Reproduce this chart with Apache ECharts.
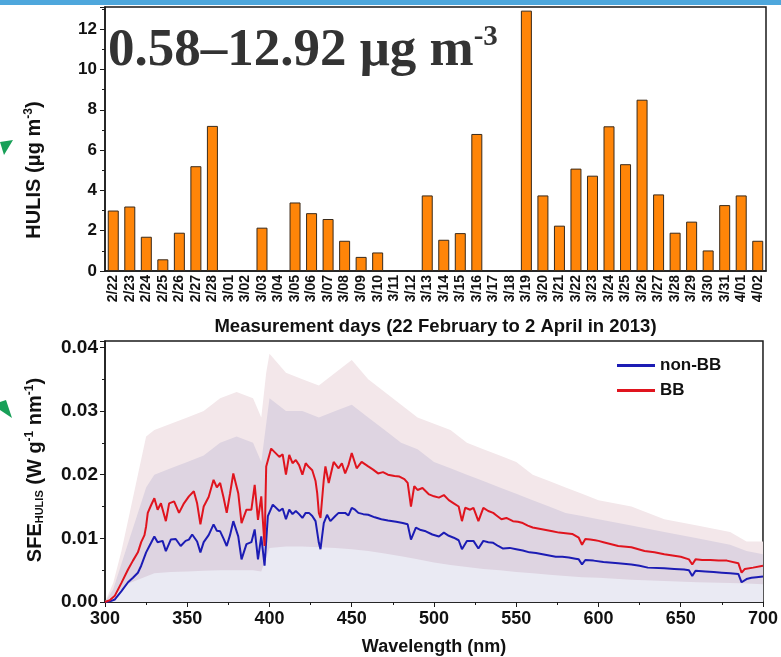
<!DOCTYPE html>
<html>
<head>
<meta charset="utf-8">
<script src="https://cdn.jsdelivr.net/npm/echarts@6/dist/echarts.min.js"></script>
<style>
  html, body { margin: 0; padding: 0; background: #fff; }
  #chart { width: 781px; height: 657px; }
</style>
</head>
<body>
<div id="chart"></div>
<script>
// top panel: daily HULIS (µg m-3), null = no sample
const days = ['2/22','2/23','2/24','2/25','2/26','2/27','2/28','3/01','3/02','3/03','3/04','3/05','3/06','3/07','3/08','3/09','3/10','3/11','3/12','3/13',
  '3/14','3/15','3/16','3/17','3/18','3/19','3/20','3/21','3/22','3/23','3/24','3/25','3/26','3/27','3/28','3/29','3/30','3/31','4/01','4/02'];
const hulis = [3.0, 3.2, 1.7, 0.58, 1.9, 5.2, 7.2, null, null, 2.15, null, 3.4, 2.87, 2.58, 1.5, 0.7, 0.92, null, null, 3.75,
  1.55, 1.88, 6.8, null, null, 12.92, 3.75, 2.25, 5.08, 4.73, 7.18, 5.3, 8.5, 3.8, 1.9, 2.45, 1.02, 3.27, 3.75, 1.5];

// bottom panel: SFE spectra
const bbWave = [300,303,306,310,314,317,320,322,324,325,326,328,330,332,334,335,337,339,342,345,348,351,354,356,358,360,363,366,368,370,372,374,376,378,381,383,386,389,391,393,395,397,398,
  401,402,406,408,410,412,414,416,418,420,422,424,426,428,429,430,431,433,434,436,439,442,444,446,448,450,453,456,460,463,466,469,472,476,479,482,484,486,488,490,493,497,
  500,503,506,509,512,515,517,519,522,524,527,530,533,536,538,541,544,548,551,554,557,560,564,568,572,576,580,584,588,590,592,595,598,
  600,603,612,620,628,634,640,645,650,655,657,659,663,668,673,678,685,687,689,694,700];
const bbSfe = [0,0.0003,0.001,0.003,0.0051,0.0065,0.0078,0.0094,0.0105,0.0119,0.014,0.0152,0.0163,0.0145,0.0155,0.0153,0.0127,0.0155,0.0158,0.014,0.0155,0.0166,0.0174,0.0155,0.0122,0.015,0.0165,0.0192,0.018,0.0187,0.0165,0.014,0.017,0.0202,0.0171,0.0124,0.0145,0.0145,0.0184,0.0129,0.0166,0.0088,0.0213,
  0.0241,0.0241,0.0228,0.0232,0.02,0.0231,0.0218,0.0223,0.0215,0.02,0.0218,0.0212,0.0207,0.019,0.0171,0.014,0.0132,0.0192,0.0213,0.0187,0.022,0.021,0.0218,0.0202,0.0215,0.0234,0.021,0.022,0.0213,0.0208,0.0202,0.0204,0.02,0.0198,0.0197,0.0193,0.0187,0.015,0.0182,0.0176,0.0179,0.0169,
  0.0166,0.0164,0.0168,0.016,0.0155,0.015,0.0127,0.0148,0.0145,0.0148,0.0127,0.0148,0.0143,0.014,0.0136,0.013,0.0132,0.0127,0.0126,0.0124,0.012,0.0117,0.0115,0.0113,0.0111,0.0109,0.0108,0.0107,0.0101,0.009,0.0099,0.0098,0.0097,
  0.0096,0.0094,0.0088,0.0086,0.008,0.0078,0.0075,0.0073,0.0071,0.0067,0.0059,0.0067,0.0066,0.0066,0.0065,0.0065,0.0061,0.0046,0.0052,0.0054,0.0057];

const nonWave = [300,303,306,310,314,317,320,322,325,327,330,332,335,337,340,343,346,349,351,353,356,358,360,363,366,368,370,372,374,376,378,381,383,386,389,391,393,395,397,399,
  402,406,408,410,412,414,416,418,420,422,424,426,428,430,431,433,435,437,440,442,446,448,450,452,454,457,460,464,468,472,477,481,484,486,489,492,495,499,
  503,506,509,512,515,517,520,524,527,530,533,536,539,542,546,550,554,558,562,566,570,574,578,582,586,588,590,592,597,
  603,612,620,625,630,640,646,652,655,657,659,665,670,675,680,685,687,690,693,696,700];
const nonSfe = [0,0.0001,0.0004,0.0017,0.0031,0.0038,0.0046,0.0057,0.0078,0.0088,0.0103,0.0094,0.0096,0.008,0.0098,0.0099,0.0088,0.0096,0.0098,0.0106,0.0095,0.0078,0.0094,0.0105,0.0122,0.0112,0.0111,0.01,0.0088,0.0105,0.0127,0.0103,0.0067,0.0091,0.0094,0.0114,0.0067,0.0103,0.0057,0.0135,
  0.0153,0.0143,0.0147,0.013,0.0145,0.0138,0.0143,0.0138,0.0132,0.014,0.014,0.0135,0.0127,0.0093,0.0083,0.0124,0.0137,0.0127,0.0135,0.014,0.014,0.0136,0.0148,0.0145,0.014,0.0138,0.0137,0.0133,0.013,0.0128,0.0126,0.0124,0.0122,0.0098,0.0117,0.0113,0.0111,0.0106,
  0.0103,0.0109,0.0104,0.0101,0.0097,0.0083,0.0096,0.0096,0.0084,0.0096,0.0094,0.0093,0.0088,0.0084,0.0085,0.0083,0.0081,0.0078,0.0077,0.0075,0.0073,0.0071,0.0071,0.007,0.0068,0.0067,0.0059,0.0066,0.0065,
  0.0063,0.0061,0.0059,0.0057,0.0054,0.0053,0.0052,0.0051,0.005,0.0041,0.0049,0.0048,0.0047,0.0046,0.0045,0.0044,0.0031,0.0036,0.0038,0.0039,0.004];

// spread envelopes behind the lines
const envWave  = [300,305,310,315,320,325,330,340,350,360,370,380,390,395,398,400,410,420,430,440,450,460,470,480,490,500,510,520,530,540,550,560,570,580,590,600,620,640,660,680,690,700];
const bbUpper  = [0,0.003,0.008,0.014,0.02,0.026,0.027,0.028,0.029,0.03,0.032,0.033,0.032,0.029,0.036,0.039,0.036,0.035,0.034,0.036,0.038,0.035,0.033,0.031,0.029,0.028,0.027,0.025,0.024,0.023,0.022,0.02,0.019,0.018,0.017,0.016,0.015,0.013,0.012,0.011,0.0095,0.0095];
const nonUpper = [0,0.002,0.006,0.01,0.014,0.018,0.02,0.021,0.022,0.023,0.025,0.026,0.025,0.022,0.028,0.032,0.03,0.03,0.029,0.03,0.031,0.029,0.027,0.025,0.024,0.022,0.021,0.02,0.019,0.018,0.017,0.016,0.015,0.014,0.0135,0.013,0.012,0.011,0.01,0.009,0.008,0.0075];
const lowBand  = [0,0.001,0.002,0.003,0.0035,0.004,0.0045,0.0047,0.0048,0.0049,0.005,0.005,0.005,0.0048,0.007,0.0085,0.0087,0.0087,0.0086,0.0085,0.0083,0.008,0.0076,0.0072,0.0067,0.0062,0.0058,0.0055,0.0052,0.005,0.0047,0.0045,0.0043,0.0041,0.0039,0.0038,0.0035,0.0033,0.0031,0.003,0.0029,0.0028];

const pairs = (xs, ys) => xs.map((x, i) => [x, ys[i]]);
const FONT = 'Liberation Sans, Arial, sans-serif';
const axisCol = '#1a1a1a';

var myChart = echarts.init(document.getElementById('chart'));

const option = {
  backgroundColor: '#fff',
  animation: false,
  graphic: [
    { type: 'rect', shape: { x: 0, y: 0, width: 781, height: 5 }, style: { fill: '#4ea7dc' } },
    // little green arrow heads on the left edge
    { type: 'polygon', shape: { points: [[0, 142], [13, 140], [4, 155]] }, style: { fill: '#18a058' } },
    { type: 'polygon', shape: { points: [[0, 402], [6, 400], [12, 418], [0, 410]] }, style: { fill: '#18a058' } },
    {
      type: 'text', left: 108, top: 23,
      style: {
        text: '{b|0.58–12.92 μg m}{s|-3}',
        rich: {
          b: { font: 'bold 53px "Liberation Serif", serif', fill: '#333', lineHeight: 56 },
          s: { font: 'bold 29px "Liberation Serif", serif', fill: '#333', verticalAlign: 'top', lineHeight: 56, padding: [0, 0, 24, 0] }
        }
      }
    },
    {
      type: 'text', x: 34, y: 170, rotation: Math.PI / 2,
      style: {
        text: '{a|HULIS (μg m}{s|-3}{a|)}', align: 'center', verticalAlign: 'middle',
        rich: {
          a: { font: 'bold 20px ' + FONT, fill: '#111', lineHeight: 22 },
          s: { font: 'bold 12px ' + FONT, fill: '#111', lineHeight: 22, padding: [0, 0, 10, 0] }
        }
      }
    },
    {
      type: 'text', x: 35, y: 470, rotation: Math.PI / 2,
      style: {
        text: '{a|SFE}{b|HULIS}{a| (W g}{s|-1}{a| nm}{s|-1}{a|)}', align: 'center', verticalAlign: 'middle',
        rich: {
          a: { font: 'bold 20px ' + FONT, fill: '#111', lineHeight: 22 },
          b: { font: 'bold 11px ' + FONT, fill: '#111', lineHeight: 22, padding: [9, 0, 0, 0] },
          s: { font: 'bold 12px ' + FONT, fill: '#111', lineHeight: 22, padding: [0, 0, 10, 0] }
        }
      }
    }
  ],
  grid: [
    { left: 105, right: 15, top: 7, height: 264, show: true, borderColor: axisCol, borderWidth: 1.5, backgroundColor: 'transparent' },
    { left: 105, right: 15, top: 341, height: 262, show: true, borderColor: axisCol, borderWidth: 1.5, backgroundColor: 'transparent' }
  ],
  legend: {
    data: ['non-BB', 'BB'],
    orient: 'vertical',
    left: 612, top: 352,
    icon: 'rect',
    itemWidth: 38, itemHeight: 3, itemGap: 8,
    textStyle: { fontFamily: FONT, fontWeight: 'bold', fontSize: 17, color: '#111' }
  },
  xAxis: [
    {
      type: 'category', gridIndex: 0, data: days,
      name: 'Measurement days (22 February to 2 April in 2013)',
      nameLocation: 'middle', nameGap: 46,
      nameTextStyle: { fontFamily: FONT, fontWeight: 'bold', fontSize: 18.5, color: '#111' },
      axisLine: { lineStyle: { color: axisCol, width: 1.5 } },
      axisTick: { length: 4, lineStyle: { color: axisCol } },
      axisLabel: { interval: 0, rotate: 90, margin: 4, fontFamily: FONT, fontWeight: 'bold', fontSize: 14, color: '#111' }
    },
    {
      type: 'value', gridIndex: 1, min: 300, max: 700, interval: 50,
      name: 'Wavelength (nm)', nameLocation: 'middle', nameGap: 36,
      nameTextStyle: { fontFamily: FONT, fontWeight: 'bold', fontSize: 18, color: '#111' },
      axisLine: { lineStyle: { color: axisCol, width: 1.5 } },
      axisTick: { length: 5, lineStyle: { color: axisCol } },
      minorTick: { show: true, splitNumber: 2, length: 3, lineStyle: { color: axisCol } },
      splitLine: { show: false },
      axisLabel: { margin: 8, fontFamily: FONT, fontWeight: 'bold', fontSize: 18, color: '#111' }
    }
  ],
  yAxis: [
    {
      type: 'value', gridIndex: 0, min: 0, max: 13.1, interval: 2,
      axisLine: { show: true, lineStyle: { color: axisCol, width: 1.5 } },
      axisTick: { show: true, length: 5, lineStyle: { color: axisCol } },
      minorTick: { show: true, splitNumber: 2, length: 3, lineStyle: { color: axisCol } },
      splitLine: { show: false },
      axisLabel: { showMaxLabel: false, margin: 8, fontFamily: FONT, fontWeight: 'bold', fontSize: 17, color: '#111' }
    },
    {
      type: 'value', gridIndex: 1, min: 0, max: 0.041, interval: 0.01,
      axisLine: { show: true, lineStyle: { color: axisCol, width: 1.5 } },
      axisTick: { show: true, length: 5, lineStyle: { color: axisCol } },
      minorTick: { show: true, splitNumber: 2, length: 3, lineStyle: { color: axisCol } },
      splitLine: { show: false },
      axisLabel: {
        showMaxLabel: false, margin: 7, fontFamily: FONT, fontWeight: 'bold', fontSize: 19, color: '#111',
        formatter: v => v.toFixed(2)
      }
    }
  ],
  series: [
    {
      type: 'bar', name: 'HULIS', xAxisIndex: 0, yAxisIndex: 0,
      data: hulis, barWidth: 11,
      itemStyle: { color: '#ff8508', borderColor: '#3a2a1a', borderWidth: 1 }
    },
    {
      type: 'line', name: 'BB spread', xAxisIndex: 1, yAxisIndex: 1,
      data: pairs(envWave, bbUpper), showSymbol: false, silent: true,
      lineStyle: { width: 0 }, areaStyle: { color: '#f3e7ea', opacity: 1 }
    },
    {
      type: 'line', name: 'non-BB spread', xAxisIndex: 1, yAxisIndex: 1,
      data: pairs(envWave, nonUpper), showSymbol: false, silent: true,
      lineStyle: { width: 0 }, areaStyle: { color: '#ded4e1', opacity: 1 }
    },
    {
      type: 'line', name: 'low', xAxisIndex: 1, yAxisIndex: 1,
      data: pairs(envWave, lowBand), showSymbol: false, silent: true,
      lineStyle: { width: 0 }, areaStyle: { color: '#eaeaf3', opacity: 1 }
    },
    {
      type: 'line', name: 'non-BB', xAxisIndex: 1, yAxisIndex: 1,
      data: pairs(nonWave, nonSfe), showSymbol: false,
      lineStyle: { color: '#1c1cb4', width: 2 }, itemStyle: { color: '#1c1cb4' }
    },
    {
      type: 'line', name: 'BB', xAxisIndex: 1, yAxisIndex: 1,
      data: pairs(bbWave, bbSfe), showSymbol: false,
      lineStyle: { color: '#e0141e', width: 2 }, itemStyle: { color: '#e0141e' }
    }
  ]
};

myChart.setOption(option);
</script>
</body>
</html>
